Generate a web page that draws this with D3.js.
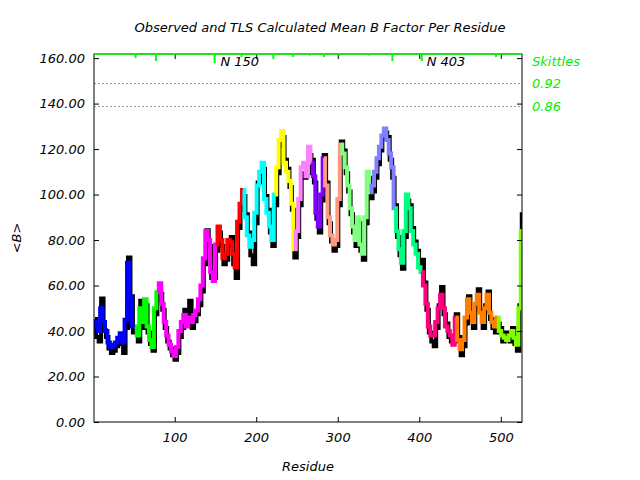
<!DOCTYPE html>
<html lang="en">
<head>
    <meta charset="UTF-8">
    <title>Observed and TLS Calculated Mean B Factor Per Residue</title>
    <script src="https://d3js.org/d3.v7.min.js"></script>
    <style>
        body { margin: 0; background: #fff; }
        text { font-family: "DejaVu Sans", sans-serif; font-style: italic; }
    </style>
</head>
<body>
    <div id="chart"></div>

    <script>
        // residue numbers sampled every 3 residues
        var residues = d3.range(1, 527, 3);

        // observed mean B (black)
        var observed = [
            46, 38, 36, 55, 41, 38, 33, 31, 32, 34, 35, 38, 31, 42, 73, 56, 40,
            40, 36, 54, 42, 52, 40, 35, 32, 48,
            54, 57, 50, 42, 36, 33, 30, 28, 31,
            38, 42, 50, 44, 54, 42, 45, 48, 52, 58, 70, 85, 78, 64, 64,
            76, 84, 78, 70, 72, 78, 82, 70, 64, 86, 94,
            100, 92, 84, 74, 70, 88, 106, 108, 112, 100, 94, 84, 78,
            96, 110, 122, 126, 116, 112, 104, 94,
            73, 82, 96, 110, 108, 110, 118,
            116, 106, 90, 84, 98,
            118, 106, 88, 80, 76, 78, 96,
            124, 120, 110, 102, 92, 84, 78, 88, 76, 72, 88, 108,
            99, 102, 108, 114, 120, 125, 128, 126, 116, 108,
            96, 82, 74, 68, 82, 98, 96, 86, 80, 76, 70,
            72, 62, 50, 40, 36, 34, 42, 52, 60, 48, 44, 38, 36, 36,
            48, 38, 30, 34, 44, 56, 46, 42, 50, 59, 50, 42, 52, 58, 46, 42, 40,
            44, 42, 36, 40, 38, 36, 42, 35, 32, 52, 92
        ];

        // TLS calculated mean B (coloured by group)
        var tlsCalc = [
            44, 42, 40, 50, 44, 40, 35, 33, 34, 35, 37, 39, 35, 45, 70, 55, 42,
            42, 38, 50, 44, 54, 42, 36, 33, 50,
            57, 61, 52, 44, 38, 34, 31, 29, 33,
            40, 44, 47, 42, 46, 44, 47, 49, 54, 60, 72, 84, 80, 66, 62,
            78, 86, 80, 72, 74, 80, 79, 74, 68, 88, 96,
            102, 90, 82, 77, 80, 92, 104, 110, 114, 98, 92, 86, 80,
            100, 112, 124, 128, 114, 110, 106, 96,
            76, 84, 98, 112, 114, 108, 121,
            114, 108, 92, 86, 100,
            116, 104, 90, 82, 78, 80, 98,
            122, 118, 112, 104, 94, 86, 80, 90, 78, 74, 90, 110,
            101, 104, 110, 116, 121, 126, 129, 124, 118, 112,
            94, 84, 76, 70, 84, 100, 94, 84, 78, 74, 68,
            66, 60, 52, 42, 38, 38, 44, 50, 56, 50, 42, 40, 38, 34,
            46, 36, 32, 36, 46, 54, 48, 44, 52, 56, 48, 44, 50, 56, 48, 44, 42,
            46, 40, 38, 37, 36, 38, 40, 37, 34, 50, 84
        ];

        // TLS group first residues and colours
        var groupStarts = [1, 51, 77, 150, 182, 221, 245, 266, 282, 302, 338, 368, 403, 444, 494];
        var groupColors = ["#0000ff", "#00ff00", "#ff00ff", "#ff0000", "#00ffff", "#ffff00",
                           "#ff80ff", "#8000ff", "#ff9980", "#80ff80", "#8080ff", "#00ff80",
                           "#ff0080", "#ff8000", "#80ff00"];

        // skittles marks along the top
        var skittleResidues = [52, 77, 149, 182, 221, 245, 266, 283, 302, 338, 367, 403, 494];
        var skittleSizes = [4, 7, 9, 3, 5, 3, 1.5, 3, 1.5, 1.5, 7, 7, 3];
        var skittleLevels = [148.8, 138.7];
        var skittleLabels = ["0.92", "0.86"];

        var segmentLabels = [{res: 150, text: "N 150"}, {res: 403, text: "N 403"}];

        var xTicks = [100, 200, 300, 400, 500];
        var yTicks = [0, 20, 40, 60, 80, 100, 120, 140, 160];

        var margin = {top: 54, right: 118, bottom: 58, left: 94};
        var width = 640 - margin.left - margin.right;
        var height = 480 - margin.top - margin.bottom;

        var svg = d3.select("#chart")
                    .append("svg")
                    .attr("width", 640)
                    .attr("height", 480);

        var g = svg.append("g")
                   .attr("transform", "translate(" + margin.left + "," + margin.top + ")");

        var x = d3.scaleLinear().domain([1, 526]).range([0, width]);
        var y = d3.scaleLinear().domain([0, 161.8]).range([height, 0]);

        // dotted reference lines
        g.selectAll(".ref")
         .data(skittleLevels)
         .enter().append("line")
         .attr("x1", 0).attr("x2", width)
         .attr("y1", function(d) { return y(d); })
         .attr("y2", function(d) { return y(d); })
         .attr("stroke", "#999")
         .attr("stroke-width", 1)
         .attr("stroke-dasharray", "2,2");

        var pts = residues.map(function(r, i) {
            return {res: r, obs: observed[i], calc: tlsCalc[i]};
        });

        g.append("clipPath").attr("id", "clip")
         .append("rect").attr("width", width).attr("height", height);

        var plot = g.append("g").attr("clip-path", "url(#clip)");

        // observed line
        plot.append("path")
            .datum(pts)
            .attr("fill", "none")
            .attr("stroke", "#000")
            .attr("stroke-width", 4)
            .attr("d", d3.line()
                .curve(d3.curveStep)
                .x(function(d) { return x(d.res) + 1; })
                .y(function(d) { return y(d.obs) + 1.5; }));

        // calculated lines, one per TLS group
        groupStarts.forEach(function(start, gi) {
            var end = gi < groupStarts.length - 1 ? groupStarts[gi + 1] : 1e9;
            var seg = pts.filter(function(d) { return d.res >= start && d.res < end; });
            var next = pts.find(function(d) { return d.res >= end; });
            if (next) seg.push(next);
            plot.append("path")
                .datum(seg)
                .attr("fill", "none")
                .attr("stroke", groupColors[gi])
                .attr("stroke-width", 4)
                .attr("d", d3.line()
                    .curve(d3.curveStep)
                    .x(function(d) { return x(d.res); })
                    .y(function(d) { return y(d.calc); }));
        });

        // axes with inward ticks
        var yAxis = g.append("g")
                     .call(d3.axisLeft(y).tickValues(yTicks).tickSize(-5).tickPadding(9)
                           .tickFormat(d3.format(".2f")));
        var yAxisR = g.append("g")
                      .attr("transform", "translate(" + width + ",0)")
                      .call(d3.axisRight(y).tickValues(yTicks).tickSize(-5).tickFormat(""));
        var xAxis = g.append("g")
                     .attr("transform", "translate(0," + height + ")")
                     .call(d3.axisBottom(x).tickValues(xTicks).tickSize(-5).tickPadding(11));
        var xAxisT = g.append("g")
                      .call(d3.axisTop(x).tickValues(xTicks).tickSize(-5).tickFormat(""));

        [yAxis, yAxisR, xAxis, xAxisT].forEach(function(a) {
            a.select(".domain").remove();
            a.selectAll("text")
             .attr("font-family", "DejaVu Sans")
             .attr("font-style", "italic")
             .attr("font-size", 13)
             .attr("fill", "#000");
        });

        g.append("rect")
         .attr("width", width).attr("height", height)
         .attr("fill", "none").attr("stroke", "#000").attr("stroke-width", 1);

        // skittles along the top edge
        var sk = d3.scaleLinear().domain([0, 9]).range([0, 9]);
        g.append("line")
         .attr("x1", 0).attr("x2", width)
         .attr("y1", 0).attr("y2", 0)
         .attr("stroke", "#00ff00").attr("stroke-width", 1.5);
        g.selectAll(".skittle")
         .data(skittleResidues)
         .enter().append("line")
         .attr("x1", function(d) { return x(d); })
         .attr("x2", function(d) { return x(d); })
         .attr("y1", 0)
         .attr("y2", function(d, i) { return sk(skittleSizes[i]); })
         .attr("stroke", "#00ff00").attr("stroke-width", 2);

        g.selectAll(".seglabel")
         .data(segmentLabels)
         .enter().append("text")
         .attr("x", function(d) { return x(d.res) + 5; })
         .attr("y", 12)
         .attr("font-size", 13)
         .text(function(d) { return d.text; });

        // legend on the right
        var legend = g.append("g").attr("transform", "translate(" + (width + 10) + ",0)");
        legend.append("text")
              .attr("y", 12).attr("font-size", 13).attr("fill", "#00ee00")
              .text("Skittles");
        legend.selectAll(".lv")
              .data(skittleLevels)
              .enter().append("text")
              .attr("y", function(d) { return y(d) + 4; })
              .attr("font-size", 13).attr("fill", "#00ee00")
              .text(function(d, i) { return skittleLabels[i]; });

        // titles
        svg.append("text")
           .attr("x", 320).attr("y", 32)
           .attr("text-anchor", "middle")
           .attr("font-size", 13)
           .text("Observed and TLS Calculated Mean B Factor Per Residue");

        svg.append("text")
           .attr("x", margin.left + width / 2).attr("y", 471)
           .attr("text-anchor", "middle")
           .attr("font-size", 13)
           .text("Residue");

        svg.append("text")
           .attr("transform", "translate(21," + (margin.top + height / 2) + ") rotate(-90)")
           .attr("text-anchor", "middle")
           .attr("font-size", 13)
           .text("<B>");
    </script>
</body>
</html>
